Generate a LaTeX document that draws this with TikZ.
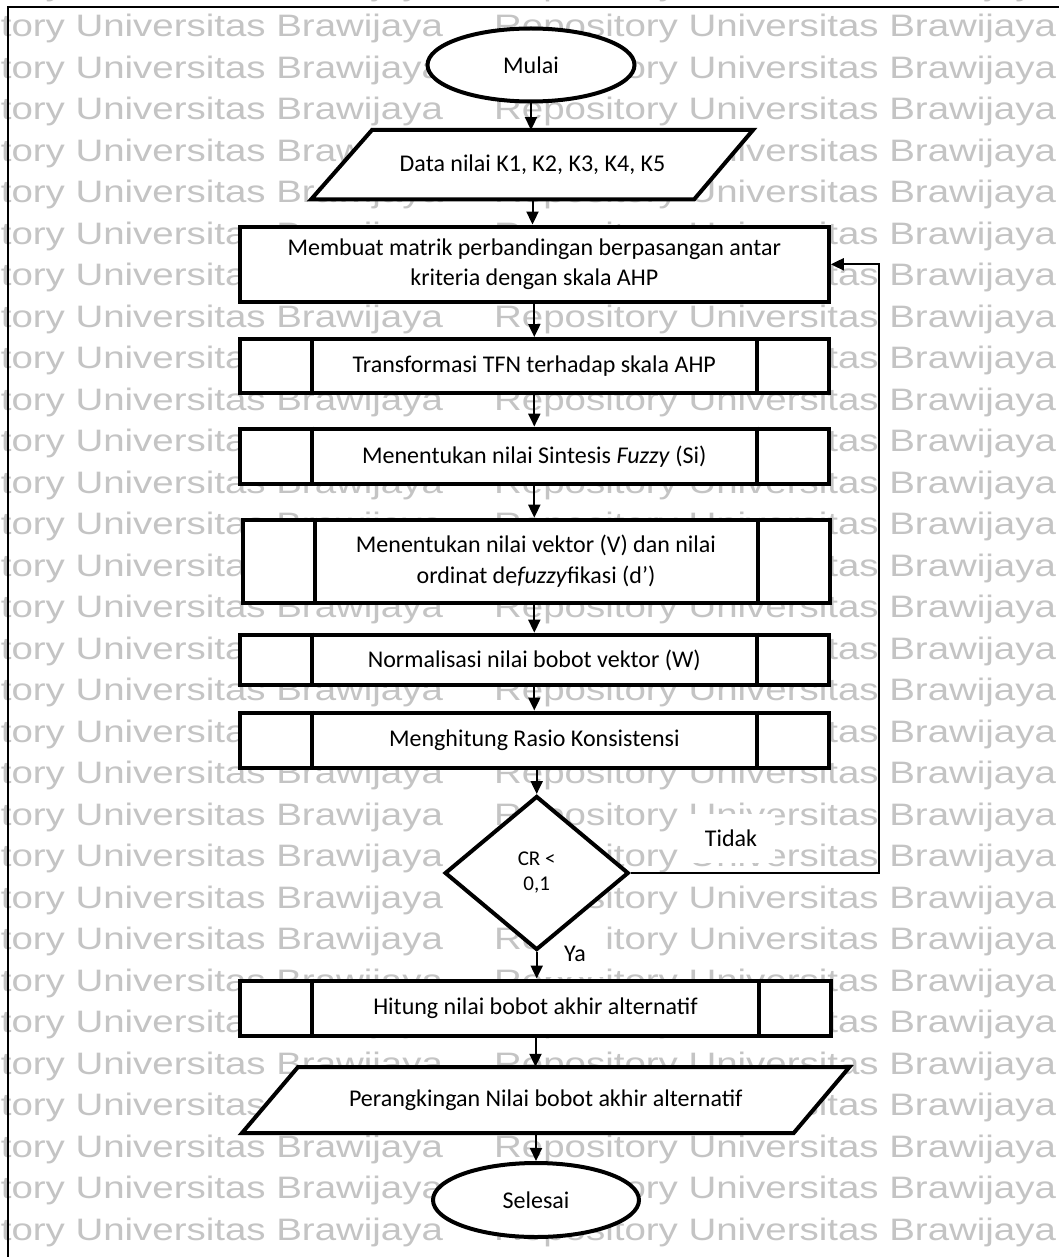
\documentclass[tikz,border=0pt]{standalone}
\usepackage{fontspec}
\setmainfont{Carlito}
\newfontfamily\wmfont{Liberation Sans}
\usetikzlibrary{arrows.meta,shapes.geometric,calc}

\newcommand\mainsz{\fontsize{24pt}{30.5pt}\selectfont}
\newcommand\decsz{\fontsize{21pt}{25pt}\selectfont}
\newcommand\wmtext{\scalebox{1.24}[1]{Repository Universitas Brawijaya}}

% vertical side bars of a predefined-process box
\newcommand\sidebars[1]{%
  \draw[line width=4pt] ($(#1.north west)+(74,0)$) -- ($(#1.south west)+(74,0)$);
  \draw[line width=4pt] ($(#1.north east)+(-74,0)$) -- ($(#1.south east)+(-74,0)$);
}

\tikzset{
  wm/.style={font=\wmfont\fontsize{31pt}{31pt}\selectfont, text=black!23, inner sep=0pt, anchor=base west},
  shapeline/.style={draw=black, line width=4pt, fill=white},
  proc/.style={shapeline, rectangle, minimum width=589pt, inner sep=0pt, align=center, font=\mainsz},
  term/.style={shapeline, ellipse, minimum width=207pt, minimum height=73pt, inner sep=0pt, font=\mainsz},
  iotext/.style={inner sep=0pt, align=center, font=\mainsz},
  decision/.style={shapeline, diamond, minimum width=184pt, minimum height=154pt, inner sep=0pt, align=center, font=\decsz},
  lbl/.style={fill=white, inner sep=0pt, font=\mainsz},
  arr/.style={line width=2pt, -{Triangle[length=13pt,width=12pt]}},
}

\begin{document}
\begin{tikzpicture}[x=1pt, y=-1pt]
  \useasboundingbox (0,0) rectangle (1059,1257);
  \clip (0,0) rectangle (1059,1257);
  \fill[white] (0,0) rectangle (1059,1257);

  % repeated background lettering
  \foreach \k in {0,...,30}{
    \pgfmathsetmacro\yb{36.7+41.5*(\k-1)}
    \node[wm] (wma\k) at (-119,\yb) {\wmtext};
    \node[wm] (wmb\k) at (494,\yb) {\wmtext};
  }

  % page frame
  \draw[line width=2pt] (8,1260) -- (8,7.4) -- (1062,7.4);

  % branch labels sit on white patches under the shapes
  \node[lbl, minimum width=88pt, minimum height=49pt] (tidak) at (731,838) {Tidak};
  \node[lbl, minimum width=60pt, minimum height=46pt] (ya) at (575,954) {Ya};

  % start
  \node[term] (mulai) at (531,65) {Mulai};

  % input data
  \fill[white] (372,130) -- (753,130) -- (694,199.5) -- (311,199.5) -- cycle;
  \draw[line width=4pt, line join=miter] (372,130) -- (753,130) -- (694,199.5) -- (311,199.5) -- cycle;
  \node[iotext, minimum width=380pt, minimum height=69.5pt] (data) at (532.5,165) {Data nilai K1, K2, K3, K4, K5};

  % process steps
  \node[proc, minimum height=75.5pt] (b1) at (534.3,264.3)
    {Membuat matrik perbandingan berpasangan antar\\kriteria dengan skala AHP};
  \node[proc, minimum height=54pt] (b2) at (534.3,366) {Transformasi TFN terhadap skala AHP};
  \sidebars{b2}
  \node[proc, minimum height=55.5pt] (b3) at (534.3,456.3) {Menentukan nilai Sintesis \textit{Fuzzy} (Si)};
  \sidebars{b3}
  \node[proc, minimum height=83pt, minimum width=587pt] (b4) at (536,561.2)
    {Menentukan nilai vektor (V) dan nilai\\ordinat de\textit{fuzzy}fikasi (d’)};
  \sidebars{b4}
  \node[proc, minimum height=50.7pt] (b5) at (534.3,660) {Normalisasi nilai bobot vektor (W)};
  \sidebars{b5}
  \node[proc, minimum height=55pt] (b6) at (534.3,740) {Menghitung Rasio Konsistensi};
  \sidebars{b6}

  % decision
  \node[decision] (dia) at (536.7,873) {CR <\\0,1};

  \node[proc, minimum height=55pt, minimum width=591pt] (b7) at (535.5,1008) {Hitung nilai bobot akhir alternatif};
  \sidebars{b7}

  % output ranking
  \fill[white] (298,1067) -- (849.5,1067) -- (793.7,1133) -- (242,1133) -- cycle;
  \draw[line width=4pt, line join=miter] (298,1067) -- (849.5,1067) -- (793.7,1133) -- (242,1133) -- cycle;
  \node[iotext, minimum width=500pt, minimum height=66pt] (rank) at (545.8,1100) {Perangkingan Nilai bobot akhir alternatif};

  % end
  \node[term, minimum width=206pt, minimum height=74pt] (selesai) at (536,1200) {Selesai};

  % flow
  \draw[arr] (mulai.south) -- (mulai.south |- data.north);
  \draw[arr] (data.south) -- (data.south |- b1.north);
  \draw[arr] (b1.south) -- (b1.south |- b2.north);
  \draw[arr] (b2.south) -- (b2.south |- b3.north);
  \draw[arr] (b3.south) -- (b3.south |- b4.north);
  \draw[arr] (b4.south -| b3.south) -- (b3.south |- b5.north);
  \draw[arr] (b5.south) -- (b5.south |- b6.north);
  \draw[arr] (b6.south -| dia.north) -- (dia.north);
  \draw[arr] (dia.south) -- (dia.south |- b7.north);
  \draw[arr] (b7.south) -- (b7.south |- rank.north);
  \draw[arr] (rank.south -| selesai.north) -- (selesai.north);

  % loop back when not consistent
  \draw[arr] (dia.east) -| ($(b1.east)+(48,0)$) -- (b1.east);
\end{tikzpicture}
\end{document}
